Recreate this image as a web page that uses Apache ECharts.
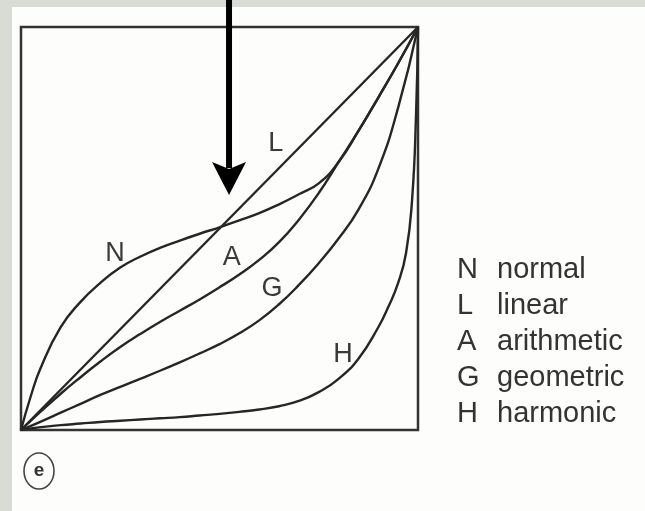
<!DOCTYPE html>
<html>
<head>
<meta charset="utf-8">
<script src="https://cdn.jsdelivr.net/npm/echarts@6/dist/echarts.min.js"></script>
<style>
  html, body { margin: 0; padding: 0; background: #d9dcd4; }
  #chart { width: 645px; height: 511px; }
</style>
</head>
<body>
<div id="chart"></div>
<script>
// Curve letters and their legend names
const curveKeys = ['N', 'L', 'A', 'G', 'H'];
const curveNames = ['normal', 'linear', 'arithmetic', 'geometric', 'harmonic'];

// Cumulative curves, [x, y] on a 0..1 square
const normalCurve = [
  [0, 0], [0.025, 0.085], [0.05, 0.155], [0.1, 0.255], [0.15, 0.318],
  [0.2, 0.365], [0.25, 0.403], [0.3, 0.43], [0.35, 0.452], [0.4, 0.47],
  [0.45, 0.487], [0.5, 0.503], [0.55, 0.52], [0.6, 0.538], [0.65, 0.56],
  [0.7, 0.585], [0.75, 0.612], [0.8, 0.665], [0.85, 0.742], [0.9, 0.825],
  [0.95, 0.91], [1, 1]
];
const linearCurve = [[0, 0], [1, 1]];
const arithmeticCurve = [
  [0, 0], [0.05, 0.046], [0.1, 0.09], [0.15, 0.131], [0.2, 0.17],
  [0.25, 0.206], [0.3, 0.238], [0.35, 0.268], [0.4, 0.296], [0.45, 0.324],
  [0.5, 0.354], [0.55, 0.386], [0.6, 0.422], [0.65, 0.466], [0.7, 0.522],
  [0.75, 0.588], [0.8, 0.665], [0.85, 0.742], [0.9, 0.825], [0.95, 0.91], [1, 1]
];
const geometricCurve = [
  [0, 0], [0.05, 0.021], [0.1, 0.043], [0.15, 0.065], [0.2, 0.087],
  [0.25, 0.107], [0.3, 0.127], [0.35, 0.147], [0.4, 0.168], [0.45, 0.19],
  [0.5, 0.213], [0.55, 0.24], [0.6, 0.272], [0.65, 0.312], [0.7, 0.36],
  [0.75, 0.414], [0.8, 0.475], [0.85, 0.547], [0.9, 0.648], [0.95, 0.8], [1, 1]
];
const harmonicCurve = [
  [0, 0], [0.05, 0.007], [0.1, 0.012], [0.15, 0.016], [0.2, 0.02],
  [0.25, 0.023], [0.3, 0.026], [0.35, 0.029], [0.4, 0.032], [0.45, 0.036],
  [0.5, 0.04], [0.55, 0.045], [0.6, 0.051], [0.65, 0.059], [0.7, 0.072],
  [0.75, 0.094], [0.8, 0.127], [0.85, 0.177], [0.9, 0.255], [0.925, 0.305],
  [0.95, 0.365], [0.97, 0.44], [0.985, 0.57], [0.995, 0.78], [1, 1]
];
const curves = [normalCurve, linearCurve, arithmeticCurve, geometricCurve, harmonicCurve];

// Where each letter sits next to its curve
const letterSpots = [[0.237, 0.439], [0.642, 0.71], [0.531, 0.429], [0.632, 0.352], [0.811, 0.186]];
// Point the arrow tip lands on
const arrowTip = [0.524, 0.583];

const ink = '#262626';
const font = 'Liberation Sans, Arial, sans-serif';
const chart = echarts.init(document.getElementById('chart'), null, { renderer: 'canvas' });

const series = curves.map((pts, i) => ({
  name: curveNames[i],
  type: 'line',
  data: pts,
  symbol: 'none',
  smooth: 0.5,
  silent: true,
  z: 3,
  lineStyle: { color: ink, width: 2.4 },
  markPoint: {
    symbol: 'circle',
    symbolSize: 0,
    silent: true,
    data: [{ coord: letterSpots[i], value: curveKeys[i] }],
    label: {
      show: true,
      position: 'inside',
      formatter: curveKeys[i],
      color: '#3a3a3a',
      fontFamily: font,
      fontSize: 27
    }
  }
}));

chart.setOption({
  animation: false,
  backgroundColor: 'transparent',
  grid: {
    left: 21, top: 27, width: 397, height: 403,
    show: true, borderColor: '#333', borderWidth: 2.5,
    backgroundColor: 'transparent'
  },
  xAxis: { type: 'value', min: 0, max: 1, show: false },
  yAxis: { type: 'value', min: 0, max: 1, show: false },
  legend: {
    orient: 'vertical',
    left: 447, top: 250,
    icon: 'none',
    itemWidth: 0, itemHeight: 10,
    itemGap: 7,
    selectedMode: false,
    data: curveNames,
    formatter: name => `{k|${curveKeys[curveNames.indexOf(name)]}}{v|${name}}`,
    textStyle: {
      rich: {
        k: { width: 40, fontSize: 29, color: '#333', fontFamily: font },
        v: { fontSize: 29, color: '#333', fontFamily: font }
      }
    }
  },
  series: series
});

// Paper sheet, arrow and the circled panel letter
const tip = chart.convertToPixel({ gridIndex: 0 }, arrowTip);
const headLen = 33, headHalf = 17;
chart.setOption({
  graphic: [
    {
      type: 'rect', z: -10, silent: true,
      shape: { x: 12, y: 7, width: 640, height: 510 },
      style: { fill: '#fdfdfc' }
    },
    {
      type: 'line', z: 20, silent: true,
      shape: { x1: tip[0], y1: -5, x2: tip[0], y2: tip[1] - headLen + 6 },
      style: { stroke: '#000', lineWidth: 6 }
    },
    {
      type: 'polygon', z: 20, silent: true,
      shape: {
        points: [
          [tip[0] - headHalf, tip[1] - headLen],
          [tip[0], tip[1] - headLen + 7],
          [tip[0] + headHalf, tip[1] - headLen],
          [tip[0], tip[1]]
        ]
      },
      style: { fill: '#000' }
    },
    {
      type: 'ellipse', z: 20, silent: true,
      shape: { cx: 39, cy: 471, rx: 15, ry: 18 },
      style: { fill: 'none', stroke: '#444', lineWidth: 1.6 }
    },
    {
      type: 'text', z: 20, silent: true,
      x: 39, y: 471,
      style: {
        text: 'e', fill: '#333', fontSize: 19, fontWeight: 'bold',
        fontFamily: font,
        align: 'center', verticalAlign: 'middle'
      }
    }
  ]
});
</script>
</body>
</html>
